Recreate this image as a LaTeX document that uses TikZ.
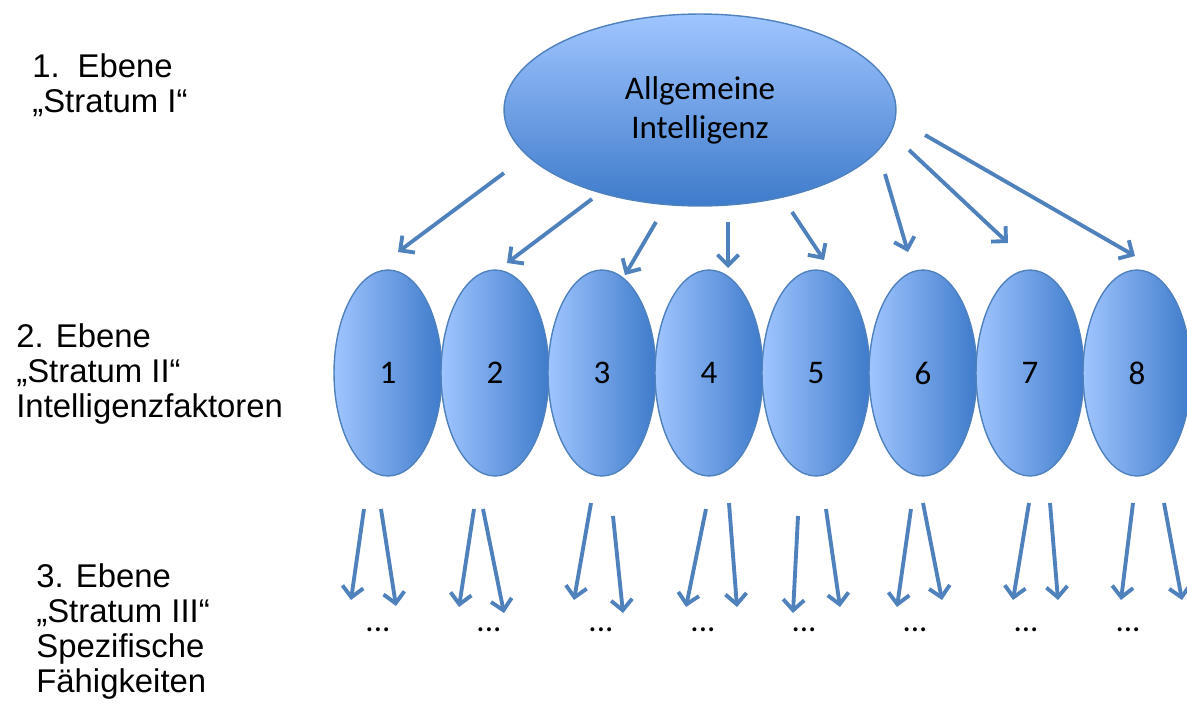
\documentclass[tikz,border=0pt]{standalone}
\usepackage{fontspec}
\setmainfont{Liberation Sans}
\newfontfamily\calfont{Carlito}
\usepackage{tikz}
\usetikzlibrary{arrows.meta,shapes.geometric,calc}
\definecolor{ellLight}{RGB}{160,197,255}
\definecolor{ellDark}{RGB}{62,123,203}
\definecolor{lineBlue}{RGB}{79,129,189}

\begin{document}
\begin{tikzpicture}[
		x=0.02cm, y=-0.02cm, % Pixelraster
		gen/.style={ellipse,draw=lineBlue,line width=0.8pt,top color=ellLight,bottom color=ellDark,
			minimum width=7.84cm,minimum height=3.84cm,inner sep=0pt,align=center,
			font=\calfont\fontsize{18.8}{22.2}\selectfont},
		fac/.style={ellipse,draw=lineBlue,line width=0.8pt,left color=ellLight,right color=ellDark,
			minimum width=2.16cm,minimum height=4.12cm,inner sep=0pt,
			font=\calfont\fontsize{18.8}{22.2}\selectfont},
		dots/.style={anchor=base,inner sep=0pt,font=\calfont\fontsize{18.8}{22.2}\selectfont},
		lvl/.style={anchor=base west,inner sep=0pt,align=left,font=\fontsize{18.7}{19.9}\selectfont},
		arr/.style={draw=lineBlue,line width=2.2pt,-{Straight Barb[length=6pt,width=12pt]}}]
		\useasboundingbox (0,0) rectangle (1187,717);
		% Ebenen (base = letzte Zeile)
		\node (l1) [lvl] at (32,112) {1.\hspace{0.36cm}Ebene\\„Stratum I“};
		\node (l2) [lvl] at (16,417) {2. Ebene\\„Stratum II“\\Intelligenzfaktoren};
		\node (l3) [lvl] at (36,692) {3. Ebene\\„Stratum III“\\Spezifische\\Fähigkeiten};
		% Ellipsen
		\node (g) [gen] at (700,110) {Allgemeine\\Intelligenz};
		\foreach \i/\x in {1/388,2/495,3/602,4/709,5/816,6/923,7/1030,8/1137}
			\node (f\i) [fac] at (\x,373) {\i};
		\foreach \i/\x in {1/378,2/489,3/601,4/703,5/804,6/915,7/1026,8/1128}
			\node (d\i) [dots] at (\x,631) {...};
		% Pfeile
		\foreach \i/\a/\b/\c/\d in {1/-196/63/10/-121, 2/-108/89/12/-110, 3/-44/112/23/-98,
				4/28/112/19/-105, 5/92/102/8/-113, 6/185/64/-15/-121, 7/209/40/-22/-130, 8/225/25/-2/-117}
			\draw [arr] ($(g)+(\a,\b)$) -- ($(f\i)+(\c,\d)$);
		\foreach \i/\a/\b/\c/\d in {1/-24/136/-27/-31, 1/-7/136/18/-25, 2/-21/136/-30/-24, 2/-12/136/15/-18,
				3/-11/130/-27/-31, 3/11/143/22/-18, 4/-3/136/-17/-24, 4/20/130/34/-24,
				5/-18/143/-11/-18, 5/10/136/36/-24, 6/-12/136/-18/-24, 6/0/130/27/-31,
				7/-1/130/-13/-31, 7/20/130/32/-31, 8/-4/130/-7/-31, 8/27/130/54/-31}
			\draw [arr] ($(f\i)+(\a,\b)$) -- ($(d\i.base)+(\c,\d)$);
	\end{tikzpicture}
\end{document}
